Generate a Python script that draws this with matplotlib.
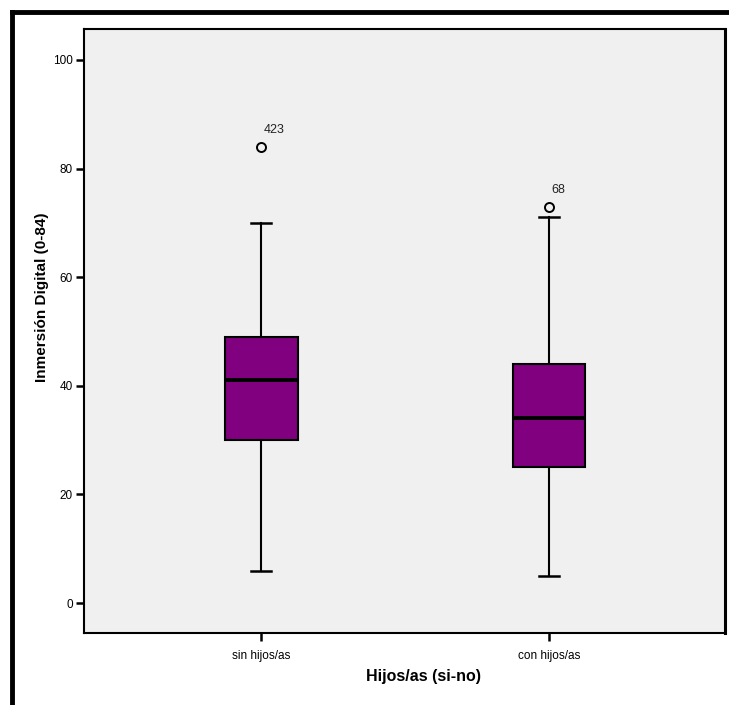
import numpy as np
import matplotlib.pyplot as plt
from matplotlib.lines import Line2D

# datos
grupos = ["sin hijos/as", "con hijos/as"]
q1 = [30, 25]
mediana = [41, 34]
q3 = [49, 44]
bigote_inf = [6, 5]
bigote_sup = [70, 71]
atipicos = [84, 73]
etiquetas_atipicos = ["423", "68"]

plt.rcParams['font.family'] = ['Liberation Sans', 'DejaVu Sans']

fig = plt.figure(figsize=(7.29, 7.05), dpi=100)
ax = fig.add_axes([84/729, 1 - 633/705, (725-84)/729, (633-29)/705])
ax.set_facecolor('#f0f0f0')

stats = []
for i in range(len(grupos)):
    stats.append({'med': mediana[i], 'q1': q1[i], 'q3': q3[i],
                  'whislo': bigote_inf[i], 'whishi': bigote_sup[i],
                  'fliers': [atipicos[i]], 'label': grupos[i]})

ax.bxp(stats, positions=[1, 2], widths=0.253, patch_artist=True,
       boxprops=dict(facecolor='#800080', edgecolor='black', linewidth=1.5),
       medianprops=dict(color='black', linewidth=2.8),
       whiskerprops=dict(color='black', linewidth=1.5),
       capprops=dict(color='black', linewidth=1.8),
       capwidths=0.07,
       flierprops=dict(marker='o', markerfacecolor='none', markeredgecolor='black',
                       markersize=6.5, markeredgewidth=1.4))

for i, (v, lab) in enumerate(zip(atipicos, etiquetas_atipicos)):
    ax.annotate(lab, (i + 1, v), xytext=(2, 8), textcoords='offset points',
                fontsize=9, color='#222222', ha='left', va='bottom')

ax.set_xlim(0.385, 2.611)
ax.set_ylim(-5.5, 105.7)
ax.set_yticks([0, 20, 40, 60, 80, 100])
ax.set_xticks([1, 2])
ax.set_xticklabels(grupos)
ax.tick_params(axis='both', direction='out', length=6, width=1.8, labelsize=8.5, pad=2)
ax.tick_params(axis='x', pad=6)
for s in ax.spines.values():
    s.set_linewidth(1.5)
ax.spines['right'].set_linewidth(2.2)

fig.text(42/729, 1 - 297/705, "Inmersión Digital (0-84)", fontsize=11, fontweight='bold',
         rotation=90, ha='center', va='center')
fig.text(423/729, 1 - 677/705, "Hijos/as (si-no)", fontsize=11.5, fontweight='bold',
         ha='center', va='center')

# marco exterior (recortado)
fig.add_artist(Line2D([12/729, 1], [1 - 12/705, 1 - 12/705], color='black', linewidth=3.5,
                      transform=fig.transFigure))
fig.add_artist(Line2D([12/729, 12/729], [0, 1 - 12/705], color='black', linewidth=3.5,
                      transform=fig.transFigure))

fig.savefig('out.png', dpi=100)
